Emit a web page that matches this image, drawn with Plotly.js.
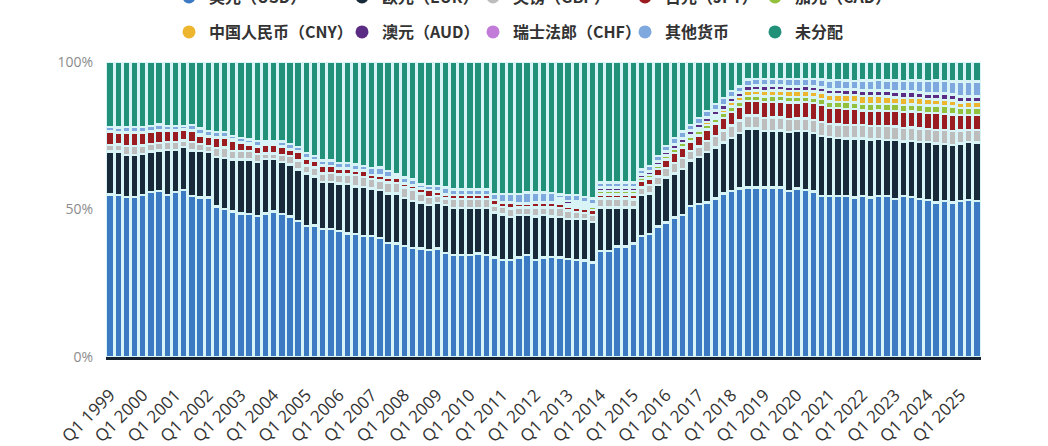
<!DOCTYPE html>
<html>
<head>
<meta charset="utf-8">
<script src="https://cdn.plot.ly/plotly-3.0.1.min.js"></script>
<style>
	html, body { margin: 0; padding: 0; background: #fff; }
	#reserve-chart { width: 1048px; height: 446px; }
</style>
</head>
<body>
<div id="reserve-chart"></div>
<script>
// Quarters shown on the x axis, Q1 1999 .. Q3 2025
const FIRST_YEAR = 1999;
const LAST_QUARTER = "Q3 2025";
const QUARTERS = [];
for (let y = FIRST_YEAR; QUARTERS[QUARTERS.length - 1] !== LAST_QUARTER; y++) {
	for (let q = 1; q <= 4 && QUARTERS[QUARTERS.length - 1] !== LAST_QUARTER; q++) {
		QUARTERS.push(`Q${q} ${y}`);
	}
}
const TICK_LABELS = QUARTERS.filter((q) => q.startsWith("Q1"));

// share of total reserves, % (one row per year)
const USD_SHARE = [
	55.6, 55.4, 54.7, 54.7,  55.4, 56.4, 56.7, 55.4,  56.4, 57.0, 55.0, 54.5,
	54.5, 51.3, 50.5, 49.7,  49.0, 48.8, 48.2, 49.0,  49.7, 48.8, 47.9, 46.5,
	44.8, 44.8, 43.7, 43.7,  43.1, 42.2, 42.0, 41.4,  41.4, 40.6, 38.9, 38.8,
	38.0, 37.2, 37.1, 36.5,  37.1, 35.5, 34.8, 34.8,  34.8, 35.4, 34.8, 34.0,
	33.1, 33.1, 34.0, 34.8,  33.1, 34.0, 34.0, 34.0,  33.5, 33.1, 32.9, 32.3,
	36.3, 36.3, 37.8, 37.8,  38.8, 41.4, 42.0, 44.6,  46.0, 47.6, 48.5, 51.6,
	52.2, 52.8, 54.1, 55.8,  56.7, 57.5, 57.9, 57.9,  57.9, 57.9, 57.9, 56.7,
	57.6, 57.0, 56.5, 55.0,  55.0, 55.0, 55.0, 54.5,  55.0, 54.5, 55.0, 55.0,
	53.9, 55.0, 54.7, 53.9,  53.6, 52.8, 53.3, 52.8,  53.3, 53.6, 53.3,
];
const EUR_SHARE = [
	14.7, 14.8, 14.4, 14.4,  14.1, 13.8, 13.9, 15.2,  14.2, 14.7, 15.6, 15.8,
	15.5, 17.0, 17.5, 17.8,  18.5, 18.7, 18.4, 18.5,  17.8, 17.8, 17.8, 17.6,
	17.8, 16.7, 16.1, 16.1,  16.1, 16.8, 16.3, 16.7,  16.1, 16.4, 16.9, 17.0,
	16.4, 16.1, 15.7, 15.4,  15.6, 16.4, 16.2, 16.2,  16.2, 15.6, 16.2, 15.4,
	15.6, 14.8, 14.5, 13.7,  14.8, 14.5, 13.9, 13.9,  13.7, 14.0, 14.2, 13.9,
	14.8, 14.8, 13.3, 13.3,  12.3, 13.9, 13.8, 14.1,  15.3, 15.0, 15.8, 15.6,
	16.1, 17.2, 17.4, 17.4,  18.1, 19.0, 20.1, 20.1,  19.3, 19.3, 19.5, 20.1,
	19.6, 20.2, 20.1, 20.7,  20.1, 19.8, 19.6, 20.3,  19.6, 19.8, 19.3, 19.2,
	20.3, 18.7, 19.0, 19.5,  19.8, 20.1, 19.6, 19.7,  19.6, 19.8, 19.9,
];
const GBP_SHARE = [
	2.1, 2.35, 2.9, 2.9,  2.8, 2.55, 2.45, 2.8,  2.8, 2.2, 2.8, 2.55,
	2.0, 3.1, 3.45, 2.8,  2.8, 2.8, 2.8, 1.9,  1.9, 2.35, 2.9, 3.0,
	2.8, 3.1, 2.9, 3.1,  3.1, 3.35, 3.8, 3.35,  3.25, 3.35, 3.8, 3.7,
	3.45, 3.9, 3.0, 2.8,  2.3, 2.3, 2.9, 2.9,  2.9, 2.9, 2.9, 2.4,
	2.55, 2.9, 2.55, 2.55,  3.1, 2.55, 3.1, 2.9,  2.8, 2.35, 2.1, 2.35,
	3.0, 3.0, 3.0, 3.0,  2.7, 2.6, 2.85, 3.0,  3.25, 3.65, 3.8, 3.25,
	3.6, 3.75, 4.05, 4.1,  4.25, 4.25, 4.45, 4.5,  4.45, 4.45, 4.4, 4.55,
	4.25, 4.25, 4.4, 4.65,  4.5, 4.6, 4.6, 4.6,  4.55, 4.6, 4.6, 4.65,
	4.55, 4.65, 4.65, 4.7,  4.55, 4.7, 4.7, 4.7,  4.4, 4.25, 4.3,
];
const JPY_SHARE = [
	4.5, 3.9, 4.5, 4.5,  4.25, 4.25, 4.25, 3.9,  3.9, 3.6, 3.9, 2.9,
	3.0, 3.35, 3.35, 3.7,  2.9, 2.35, 2.35, 2.9,  2.9, 2.8, 2.2, 2.9,
	2.35, 2.2, 2.8, 2.2,  2.0, 2.0, 1.65, 2.1,  1.3, 1.55, 1.55, 1.65,
	1.4, 1.4, 1.75, 2.3,  1.4, 1.3, 1.4, 1.4,  1.4, 1.4, 1.4, 1.75,
	1.4, 2.0, 1.4, 1.4,  1.65, 1.65, 1.65, 1.65,  1.4, 1.55, 1.55, 1.65,
	1.4, 1.4, 1.4, 1.4,  1.7, 2.2, 2.35, 2.5,  2.95, 3.35, 3.5, 3.2,
	3.75, 3.9, 4.2, 4.25,  4.7, 4.7, 4.95, 5.0,  5.45, 5.45, 5.4, 5.6,
	5.5, 5.5, 5.7, 5.95,  5.4, 5.5, 5.55, 5.5,  5.1, 5.2, 5.2, 5.2,
	5.3, 5.45, 5.45, 5.5,  5.5, 5.65, 5.65, 5.65,  5.25, 5.1, 5.15,
];
// CAD and AUD reported separately from Q4 2012, CNY from Q4 2016
const CAD_START = "Q4 2012";
const CAD_SHARE = [
	0.75,
	0.95, 1.0, 0.95, 1.0,  1.2, 1.2, 1.2, 1.2,  1.2, 1.05, 1.15, 1.2,
	1.35, 1.5, 1.6, 1.45,  1.5, 1.6, 1.7, 1.75,  1.75, 1.75, 1.8, 1.85,
	1.9, 1.9, 1.85, 1.9,  1.85, 1.85, 1.95, 2.0,  2.2, 2.2, 2.25, 2.2,
	2.25, 2.3, 2.3, 2.3,  2.35, 2.45, 2.45, 2.45,  2.55, 2.6, 2.6, 2.65,
	2.45, 2.4, 2.45,
];
const CNY_START = "Q4 2016";
const CNY_SHARE = [
	0.85,
	0.9, 0.95, 1.05, 1.05,  1.6, 1.6, 1.7, 1.7,  1.9, 1.9, 1.9, 1.95,
	2.0, 2.0, 2.05, 2.2,  2.45, 2.5, 2.5, 2.5,  2.6, 2.65, 2.65, 2.65,
	2.25, 2.3, 2.3, 2.35,  2.1, 2.15, 2.15, 2.15,  1.95, 1.9, 1.9,
];
const AUD_START = "Q4 2012";
const AUD_SHARE = [
	0.8,
	0.95, 1.0, 0.95, 1.0,  1.1, 1.1, 1.1, 1.1,  1.1, 1.05, 1.15, 1.2,
	1.3, 1.45, 1.5, 1.3,  1.4, 1.45, 1.55, 1.6,  1.55, 1.55, 1.6, 1.65,
	1.65, 1.65, 1.6, 1.65,  1.65, 1.65, 1.7, 1.75,  1.7, 1.75, 1.75, 1.75,
	1.85, 1.85, 1.85, 1.9,  1.9, 1.95, 1.95, 1.95,  2.0, 2.05, 2.05, 2.05,
	2.0, 1.95, 1.95,
];
const CHF_SHARE = [
	0.25, 0.25, 0.25, 0.25,  0.25, 0.25, 0.25, 0.25,  0.25, 0.25, 0.25, 0.25,
	0.25, 0.25, 0.25, 0.25,  0.25, 0.25, 0.25, 0.25,  0.25, 0.25, 0.25, 0.25,
	0.15, 0.15, 0.15, 0.15,  0.15, 0.15, 0.15, 0.15,  0.15, 0.15, 0.15, 0.15,
	0.15, 0.15, 0.15, 0.15,  0.15, 0.15, 0.15, 0.15,  0.15, 0.15, 0.15, 0.15,
	0.15, 0.15, 0.15, 0.15,  0.15, 0.15, 0.15, 0.1,  0.1, 0.1, 0.1, 0.1,
	0.15, 0.15, 0.15, 0.15,  0.15, 0.15, 0.15, 0.15,  0.15, 0.15, 0.15, 0.15,
	0.15, 0.15, 0.15, 0.15,  0.15, 0.15, 0.15, 0.15,  0.15, 0.15, 0.15, 0.15,
	0.15, 0.15, 0.15, 0.15,  0.15, 0.15, 0.15, 0.15,  0.2, 0.2, 0.2, 0.2,
	0.2, 0.2, 0.2, 0.2,  0.2, 0.2, 0.2, 0.2,  0.2, 0.2, 0.2,
];
const OTHER_SHARE = [
	1.4, 1.75, 1.75, 1.75,  1.75, 1.65, 1.85, 1.4,  1.4, 1.15, 1.65, 2.1,
	1.85, 1.85, 1.85, 1.2,  1.4, 1.4, 1.75, 0.95,  0.95, 1.5, 1.75, 1.4,
	1.8, 1.55, 1.55, 1.85,  1.85, 1.85, 1.85, 1.5,  2.4, 2.65, 2.2, 1.05,
	1.85, 1.85, 1.25, 1.25,  1.85, 2.2, 1.85, 1.85,  1.85, 1.85, 1.85, 2.1,
	2.95, 2.85, 3.2, 3.55,  3.3, 3.3, 3.15, 1.45,  2.0, 2.2, 1.9, 1.95,
	1.6, 1.6, 1.6, 1.6,  1.6, 1.7, 1.8, 1.9,  1.8, 2.1, 2.15, 1.8,
	2.0, 2.1, 2.25, 2.3,  1.95, 1.95, 2.1, 2.1,  2.25, 2.25, 2.25, 2.35,
	2.3, 2.3, 2.4, 2.55,  2.95, 3.0, 3.0, 3.0,  3.3, 3.35, 3.35, 3.35,
	3.7, 3.75, 3.75, 3.9,  4.1, 4.2, 4.2, 4.25,  5.0, 4.9, 5.0,
];
const UNALLOCATED_SHARE = [
	22.3, 22.3, 22.3, 22.3,  22.3, 21.8, 21.4, 21.8,  21.8, 21.8, 21.6, 22.7,
	23.6, 23.8, 23.8, 25.3,  25.9, 26.5, 27.0, 27.2,  27.2, 27.2, 27.9, 29.1,
	31.0, 32.1, 33.6, 33.6,  34.4, 34.4, 35.0, 35.5,  36.1, 36.1, 37.2, 38.4,
	39.5, 40.1, 41.8, 42.4,  42.4, 42.9, 43.5, 43.5,  43.5, 43.5, 43.5, 45.0,
	45.0, 45.0, 45.0, 44.6,  44.6, 44.6, 44.6, 45.2,  45.4, 45.4, 46.1, 46.6,
	41.2, 41.2, 41.2, 41.2,  41.2, 36.7, 35.5, 32.1,  28.7, 25.9, 23.8, 21.6,
	19.1, 16.8, 14.3, 12.3,  10.0, 8.3, 6.0, 5.8,  5.8, 5.7, 5.8, 5.8,
	5.9, 5.8, 5.8, 6.0,  6.3, 6.2, 6.3, 6.4,  6.3, 6.3, 6.2, 6.3,
	6.3, 6.4, 6.3, 6.3,  6.4, 6.3, 6.5, 6.6,  6.6, 6.7, 6.6,
];

const GAP_COLOR = "#d8f4f7";

// stacking order, bottom to top
const SERIES = [
	{ name: "美元（USD）", values: USD_SHARE, color: "#3c7bc4" },
	{ name: "欧元（EUR）", values: EUR_SHARE, color: "#18293a" },
	{ name: "英镑（GBP）", values: GBP_SHARE, color: "#bdbdbd" },
	{ name: "日元（JPY）", values: JPY_SHARE, color: "#9a1c20" },
	{ name: "加元（CAD）", values: CAD_SHARE, start: CAD_START, color: "#93c13e" },
	{ name: "中国人民币（CNY）", values: CNY_SHARE, start: CNY_START, color: "#eeb62f" },
	{ name: "澳元（AUD）", values: AUD_SHARE, start: AUD_START, color: "#5b2c83" },
	{ name: "瑞士法郎（CHF）", values: CHF_SHARE, color: "#c27bd9" },
	{ name: "其他货币", values: OTHER_SHARE, color: "#7fa8de" },
	{ name: "未分配", values: UNALLOCATED_SHARE, color: "#22917a" },
];

// legend grid: 5 columns x 2 rows (dot centre in px); the first row is cut by the top edge
const LEGEND_COLS_PX = [189, 362, 493, 645, 775];
const LEGEND_ROWS_PX = [-3, 32];

function buildTraces() {
	const bars = SERIES.map((s) => ({
		type: "bar",
		name: s.name,
		x: s.start ? QUARTERS.slice(QUARTERS.indexOf(s.start)) : QUARTERS,
		y: s.values,
		marker: { color: s.color, line: { color: GAP_COLOR, width: 2.4 } },
		showlegend: false,
		hoverinfo: "skip",
	}));

	// round legend dots, one small legend per entry so the columns line up
	const keys = SERIES.map((s, i) => ({
		type: "scatter",
		mode: "markers",
		name: s.name,
		x: [null],
		y: [null],
		marker: { color: s.color, size: 13, symbol: "circle" },
		legend: i === 0 ? "legend" : "legend" + (i + 1),
		hoverinfo: "skip",
	}));

	return bars.concat(keys);
}

function buildLayout() {
	const margin = { l: 106, r: 67, t: 62, b: 89 };
	const plotW = 1048 - margin.l - margin.r;
	const plotH = 446 - margin.t - margin.b;

	const layout = {
		width: 1048,
		height: 446,
		margin: { ...margin, autoexpand: false },
		barmode: "stack",
		barnorm: "percent",
		bargap: 0.05,
		paper_bgcolor: "#ffffff",
		plot_bgcolor: GAP_COLOR,
		font: { family: "Open Sans, sans-serif", color: "#333" },
		showlegend: true,
		xaxis: {
			type: "category",
			categoryorder: "array",
			categoryarray: QUARTERS,
			range: [-0.5, QUARTERS.length - 0.5],
			tickmode: "array",
			tickvals: TICK_LABELS,
			ticktext: TICK_LABELS,
			tickangle: -45,
			tickfont: { size: 17, color: "#333" },
			ticks: "",
			ticklabelstandoff: 19,
			showgrid: false,
			showline: true,
			linecolor: "#17222e",
			linewidth: 2.5,
			zeroline: false,
		},
		yaxis: {
			range: [0, 100],
			tickmode: "array",
			tickvals: [0, 50, 100],
			ticktext: ["0%", "50%", "100%"],
			tickfont: { size: 14, color: "#8c8c8c" },
			ticks: "",
			ticklabelstandoff: 12,
			showgrid: false,
			zeroline: false,
			showline: false,
		},
	};

	SERIES.forEach((s, i) => {
		const col = i % 5;
		const row = Math.floor(i / 5);
		const key = i === 0 ? "legend" : "legend" + (i + 1);
		layout[key] = {
			orientation: "h",
			x: (LEGEND_COLS_PX[col] - 20 - margin.l) / plotW,
			y: (margin.t + plotH - LEGEND_ROWS_PX[row]) / plotH,
			xanchor: "left",
			yanchor: "middle",
			bgcolor: "rgba(0,0,0,0)",
			itemsizing: "trace",
			font: {
				family: "Noto Sans CJK SC, sans-serif",
				size: 16,
				weight: "bold",
				color: "#333",
			},
		};
	});

	return layout;
}

Plotly.newPlot("reserve-chart", buildTraces(), buildLayout(), {
	displayModeBar: false,
	staticPlot: true,
});
</script>
</body>
</html>
